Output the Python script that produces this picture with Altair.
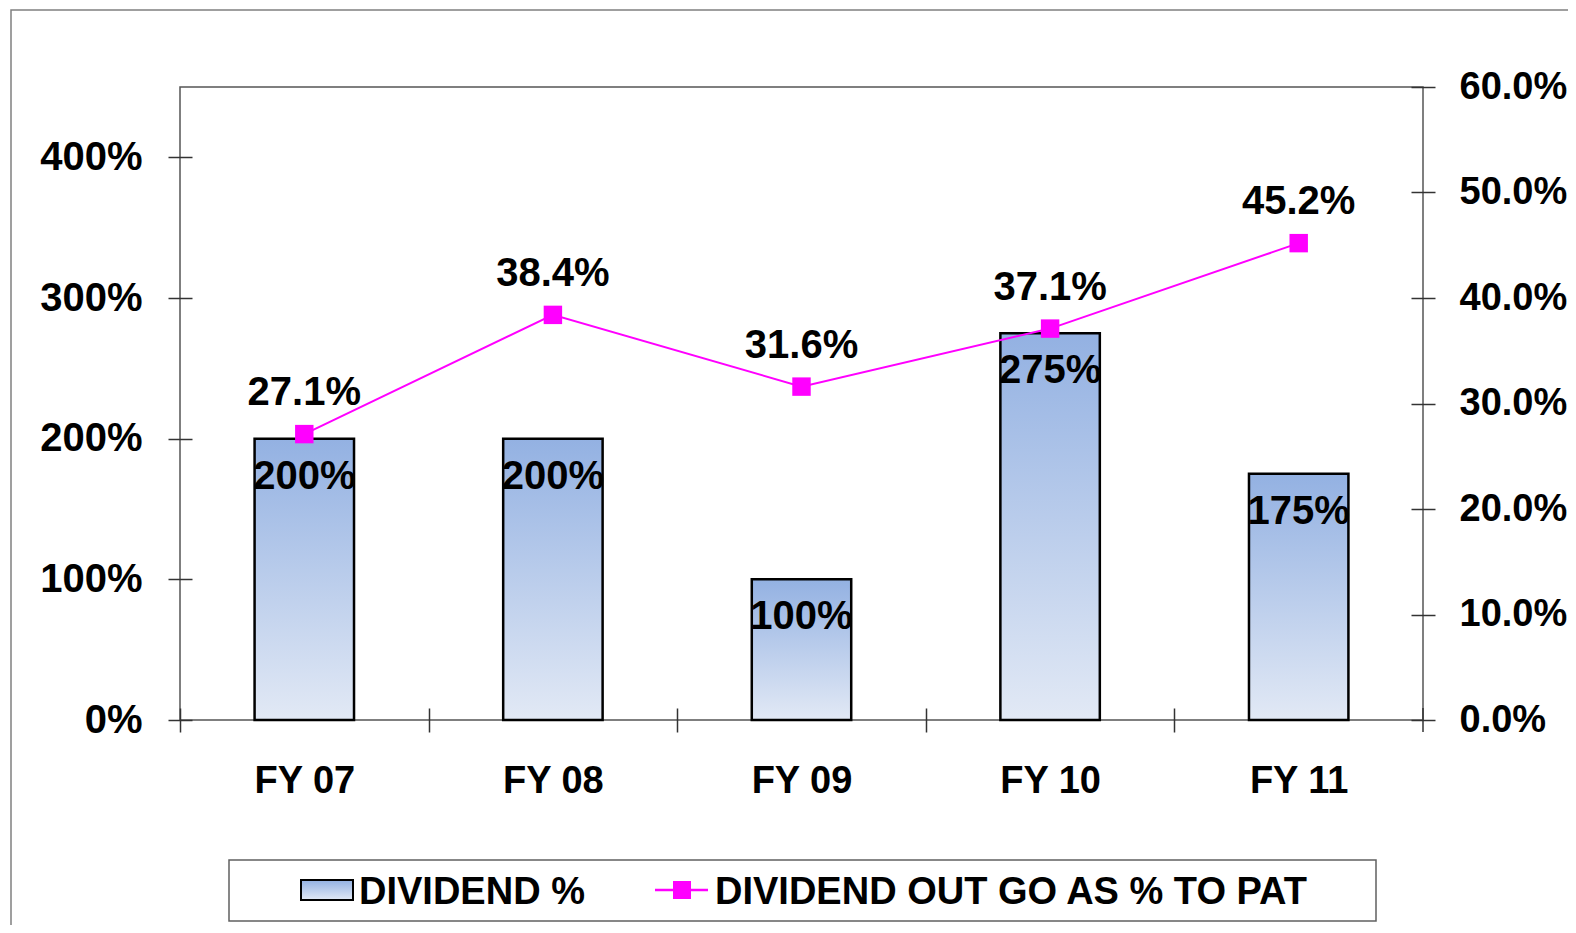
import altair as alt
import pandas as pd

years = ["FY 07", "FY 08", "FY 09", "FY 10", "FY 11"]
dividend_pct = [2.00, 2.00, 1.00, 2.75, 1.75]
outgo_pct = [0.271, 0.384, 0.316, 0.371, 0.452]
series_names = ["DIVIDEND %", "DIVIDEND OUT GO AS % TO PAT"]
left_ticks = [0, 1, 2, 3, 4]
right_ticks = [0, 0.1, 0.2, 0.3, 0.4, 0.5, 0.6]

df = pd.DataFrame({"year": years, "div": dividend_pct, "outgo": outgo_pct})

W, H = 1243, 633
STEP = W / len(years)
FONT = "Liberation Sans"
MAGENTA = "#ff00ff"

grad = alt.Gradient(
    gradient="linear",
    stops=[alt.GradientStop(color="#93b1e2", offset=0),
           alt.GradientStop(color="#e2e9f5", offset=1)],
    x1=0, x2=0, y1=0, y2=1,
)

x_enc = alt.X(
    "year:N", sort=years,
    scale=alt.Scale(paddingInner=0.6, paddingOuter=0.3),
    axis=alt.Axis(title=None, labelAngle=0, tickOffset=-STEP / 2, labelOffset=STEP / 2,
                  offset=-12, tickSize=24, domain=False, labelPadding=30, labelFontSize=38,
                  labelFont=FONT, labelFontWeight="bold", labelColor="black",
                  tickColor="#333333", tickWidth=1.5),
)

y_left = alt.Y(
    "div:Q", scale=alt.Scale(domain=[0, 4.5], nice=False),
    axis=alt.Axis(title=None, values=left_ticks, format=".0%", orient="left", offset=-12,
                  tickSize=24, domain=False, labelPadding=26, labelFontSize=40,
                  labelFont=FONT, labelFontWeight="bold", labelColor="black",
                  tickColor="#333333", tickWidth=1.5, grid=False),
)
y_right = alt.Y(
    "outgo:Q", scale=alt.Scale(domain=[0, 0.6], nice=False),
    axis=alt.Axis(title=None, values=right_ticks, format=".1%", orient="right", offset=-12,
                  tickSize=24, domain=False, labelPadding=24, labelFontSize=38,
                  labelFont=FONT, labelFontWeight="bold", labelColor="black",
                  tickColor="#333333", tickWidth=1.5, grid=False),
)

base = alt.Chart(df)
one = alt.Data(values=[{}])

frame = alt.Chart(one).mark_rect(fillOpacity=0, stroke="#808080", strokeWidth=1.5).encode(
    x=alt.value(-169), x2=alt.value(W + 200), y=alt.value(-77), y2=alt.value(H + 300))

bars = base.mark_bar(fill=grad, stroke="black", strokeWidth=2.5).encode(x=x_enc, y=y_left)
bar_labels = base.mark_text(font=FONT, fontSize=40, fontWeight="bold", color="black",
                            baseline="alphabetic", dy=50).encode(
    x=x_enc, y=y_left, text=alt.Text("div:Q", format=".0%"))
left_group = alt.layer(bars, bar_labels)

line = base.mark_line(color=MAGENTA, strokeWidth=2).encode(x=x_enc, y=y_right)
pts = base.mark_square(color=MAGENTA, size=340, opacity=1).encode(x=x_enc, y=y_right)
line_labels = base.mark_text(font=FONT, fontSize=40, fontWeight="bold", color="black",
                             baseline="alphabetic", dy=-29).encode(
    x=x_enc, y=y_right, text=alt.Text("outgo:Q", format=".1%"))
right_group = alt.layer(line, pts, line_labels)

end_tick = alt.Chart(one).mark_rule(color="#333333", strokeWidth=1.5).encode(
    x=alt.value(W), y=alt.value(H - 12), y2=alt.value(H + 12))

# legend
leg_box = alt.Chart(one).mark_rect(fill="white", stroke="#606060", strokeWidth=1.5).encode(
    x=alt.value(49), x2=alt.value(1196), y=alt.value(773), y2=alt.value(834))
leg_swatch = alt.Chart(one).mark_rect(fill=grad, stroke="black", strokeWidth=2).encode(
    x=alt.value(121), x2=alt.value(173), y=alt.value(793), y2=alt.value(813))
leg_text1 = alt.Chart(one).mark_text(font=FONT, fontSize=38, fontWeight="bold", color="black",
                                     align="left", baseline="alphabetic").encode(
    x=alt.value(179), y=alt.value(817), text=alt.value(series_names[0]))
leg_line = alt.Chart(one).mark_rule(color=MAGENTA, strokeWidth=2.5).encode(
    x=alt.value(475), x2=alt.value(528), y=alt.value(803))
leg_sq = alt.Chart(one).mark_square(color=MAGENTA, size=324, opacity=1).encode(
    x=alt.value(502), y=alt.value(803))
leg_text2 = alt.Chart(one).mark_text(font=FONT, fontSize=38, fontWeight="bold", color="black",
                                     align="left", baseline="alphabetic").encode(
    x=alt.value(535), y=alt.value(817), text=alt.value(series_names[1]))

chart = alt.layer(
    frame, left_group, right_group, end_tick,
    leg_box, leg_swatch, leg_text1, leg_line, leg_sq, leg_text2,
).resolve_scale(y="independent").properties(
    width=W, height=H,
    padding={"left": 172, "top": 79, "right": 145, "bottom": 205},
    autosize=alt.AutoSizeParams(type="none"),
    background="white",
).configure_view(stroke="#555555", strokeWidth=1.5)

chart.save("out.html", embed_options={"renderer": "svg", "actions": False})
